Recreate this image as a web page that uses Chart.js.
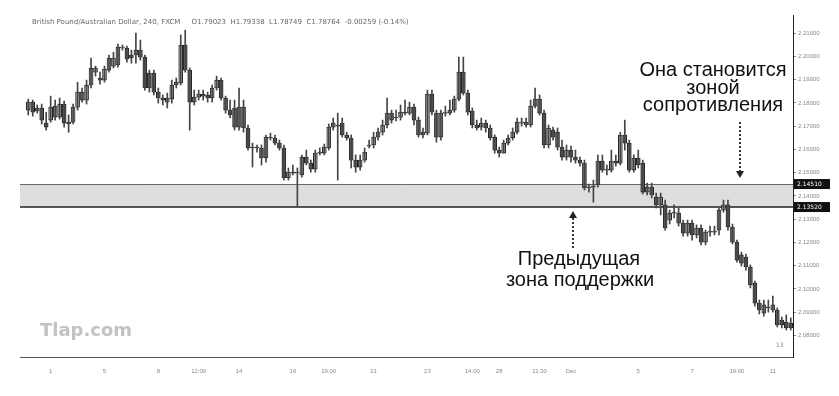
<!DOCTYPE html>
<html>
<head>
<meta charset="utf-8">
<script src="https://cdn.jsdelivr.net/npm/chart.js@4.4.1/dist/chart.umd.min.js"></script>
<style>
  body { margin: 0; background: #fff; }
  canvas { display: block; }
</style>
</head>
<body>
<canvas id="chart" width="839" height="396"></canvas>
<script>
// GBP/AUD 4h candles
const opens = [2.1769,2.1803,2.1765,2.1778,2.1713,2.1726,2.1739,2.1739,2.1795,2.1717,2.1717,2.1782,2.1812,2.1812,2.1877,2.1932,2.1898,2.1898,2.1941,2.1958,
  2.1963,2.2036,2.2036,2.2006,2.2006,2.2027,2.1997,2.1928,2.1928,2.1846,2.1821,2.1803,2.1816,2.1877,2.1885,2.2049,2.1941,2.1803,2.1825,2.1838,
  2.1834,2.1821,2.1864,2.1898,2.1821,2.1769,2.1778,2.1696,2.1782,2.1692,2.1610,2.1606,2.1606,2.1563,2.1653,2.1649,2.1627,2.1606,2.1477,2.1502,
  2.1498,2.1490,2.1567,2.1541,2.1515,2.1584,2.1584,2.1606,2.1696,2.1705,2.1713,2.1662,2.1649,2.1554,2.1524,2.1554,2.1614,2.1619,2.1653,2.1674,
  2.1705,2.1756,2.1735,2.1739,2.1760,2.1756,2.1782,2.1726,2.1662,2.1670,2.1838,2.1756,2.1653,2.1756,2.1756,2.1769,2.1816,2.1932,2.1842,2.1765,
  2.1705,2.1696,2.1713,2.1692,2.1653,2.1597,2.1584,2.1627,2.1649,2.1674,2.1713,2.1705,2.1705,2.1786,2.1816,2.1756,2.1619,2.1683,2.1674,2.1610,
  2.1567,2.1597,2.1567,2.1554,2.1541,2.1434,2.1442,2.1447,2.1550,2.1511,2.1511,2.1550,2.1541,2.1662,2.1627,2.1511,2.1563,2.1541,2.1416,2.1438,
  2.1395,2.1361,2.1361,2.1296,2.1326,2.1326,2.1283,2.1240,2.1283,2.1232,2.1262,2.1201,2.1244,2.1249,2.1253,2.1339,2.1361,2.1266,2.1201,2.1146,
  2.1137,2.1094,2.1025,2.0939,2.0896,2.0922,2.0909,2.0909,2.0866,2.0857,2.0853];
const highs = [2.1816,2.1812,2.1791,2.1795,2.1760,2.1829,2.1812,2.1821,2.1808,2.1748,2.1795,2.1889,2.1864,2.1898,2.1993,2.1958,2.1932,2.1958,2.2006,2.2018,
  2.2053,2.2049,2.2044,2.2027,2.2100,2.2070,2.2006,2.1941,2.1941,2.1864,2.1834,2.1842,2.1898,2.1907,2.2092,2.2113,2.1950,2.1855,2.1855,2.1855,
  2.1846,2.1877,2.1915,2.1907,2.1829,2.1812,2.1812,2.1864,2.1812,2.1705,2.1627,2.1619,2.1619,2.1662,2.1670,2.1662,2.1640,2.1619,2.1520,2.1533,
  2.1520,2.1576,2.1597,2.1554,2.1597,2.1606,2.1623,2.1709,2.1735,2.1756,2.1735,2.1674,2.1662,2.1576,2.1576,2.1606,2.1640,2.1674,2.1692,2.1726,
  2.1821,2.1769,2.1769,2.1791,2.1812,2.1803,2.1795,2.1739,2.1692,2.1855,2.1855,2.1769,2.1769,2.1786,2.1812,2.1829,2.1997,2.1997,2.1855,2.1778,
  2.1726,2.1735,2.1726,2.1705,2.1662,2.1610,2.1640,2.1662,2.1692,2.1735,2.1735,2.1735,2.1812,2.1864,2.1834,2.1769,2.1705,2.1696,2.1692,2.1640,
  2.1619,2.1614,2.1597,2.1567,2.1554,2.1451,2.1468,2.1576,2.1576,2.1533,2.1597,2.1576,2.1674,2.1726,2.1640,2.1576,2.1597,2.1554,2.1455,2.1455,
  2.1412,2.1412,2.1382,2.1339,2.1361,2.1348,2.1296,2.1296,2.1296,2.1275,2.1275,2.1253,2.1270,2.1270,2.1348,2.1382,2.1382,2.1279,2.1210,2.1158,
  2.1150,2.1103,2.1034,2.0952,2.0952,2.0952,2.0969,2.0918,2.0879,2.0888,2.0875];
const lows = [2.1748,2.1743,2.1756,2.1709,2.1683,2.1717,2.1726,2.1730,2.1696,2.1674,2.1709,2.1769,2.1803,2.1795,2.1864,2.1915,2.1881,2.1889,2.1932,2.1950,
  2.1954,2.2027,2.1975,2.1971,2.1971,2.1984,2.1855,2.1846,2.1834,2.1799,2.1791,2.1778,2.1799,2.1864,2.1877,2.1932,2.1683,2.1791,2.1812,2.1812,
  2.1803,2.1803,2.1855,2.1812,2.1756,2.1735,2.1683,2.1683,2.1674,2.1597,2.1524,2.1588,2.1533,2.1545,2.1640,2.1619,2.1597,2.1468,2.1468,2.1490,
  2.1352,2.1481,2.1533,2.1502,2.1502,2.1576,2.1576,2.1597,2.1683,2.1468,2.1653,2.1640,2.1520,2.1502,2.1511,2.1545,2.1606,2.1606,2.1640,2.1662,
  2.1692,2.1713,2.1722,2.1726,2.1748,2.1748,2.1705,2.1653,2.1649,2.1662,2.1748,2.1631,2.1640,2.1743,2.1748,2.1760,2.1808,2.1834,2.1748,2.1692,
  2.1683,2.1683,2.1674,2.1640,2.1584,2.1567,2.1584,2.1619,2.1640,2.1666,2.1700,2.1696,2.1696,2.1778,2.1748,2.1606,2.1606,2.1640,2.1597,2.1554,
  2.1554,2.1545,2.1541,2.1528,2.1425,2.1416,2.1373,2.1438,2.1502,2.1490,2.1502,2.1528,2.1533,2.1597,2.1502,2.1502,2.1520,2.1408,2.1404,2.1391,
  2.1348,2.1318,2.1253,2.1279,2.1305,2.1270,2.1227,2.1227,2.1210,2.1219,2.1189,2.1189,2.1227,2.1232,2.1232,2.1330,2.1253,2.1193,2.1115,2.1098,
  2.1081,2.1004,2.0926,2.0892,2.0883,2.0900,2.0900,2.0836,2.0832,2.0823,2.0823];
const closes = [2.1803,2.1760,2.1778,2.1726,2.1696,2.1782,2.1786,2.1795,2.1713,2.1709,2.1782,2.1846,2.1846,2.1877,2.1950,2.1950,2.1907,2.1945,2.1993,2.1993,
  2.2040,2.2040,2.1988,2.1993,2.2027,2.1997,2.1864,2.1864,2.1846,2.1821,2.1812,2.1821,2.1877,2.1889,2.2049,2.1941,2.1803,2.1825,2.1838,2.1829,
  2.1821,2.1864,2.1898,2.1821,2.1769,2.1748,2.1696,2.1782,2.1692,2.1606,2.1606,2.1610,2.1563,2.1653,2.1649,2.1627,2.1606,2.1477,2.1502,2.1498,
  2.1502,2.1567,2.1541,2.1515,2.1584,2.1588,2.1610,2.1696,2.1713,2.1700,2.1662,2.1649,2.1554,2.1524,2.1554,2.1588,2.1619,2.1653,2.1674,2.1705,
  2.1756,2.1726,2.1739,2.1760,2.1756,2.1782,2.1726,2.1662,2.1674,2.1838,2.1760,2.1653,2.1756,2.1760,2.1769,2.1816,2.1932,2.1842,2.1760,2.1705,
  2.1692,2.1713,2.1692,2.1649,2.1597,2.1584,2.1627,2.1649,2.1674,2.1717,2.1717,2.1717,2.1786,2.1816,2.1756,2.1619,2.1692,2.1653,2.1610,2.1567,
  2.1597,2.1567,2.1554,2.1541,2.1434,2.1438,2.1438,2.1550,2.1511,2.1515,2.1550,2.1541,2.1662,2.1627,2.1511,2.1563,2.1533,2.1416,2.1438,2.1404,
  2.1361,2.1395,2.1262,2.1326,2.1330,2.1283,2.1240,2.1283,2.1232,2.1262,2.1201,2.1244,2.1249,2.1244,2.1339,2.1361,2.1266,2.1201,2.1124,2.1111,
  2.1094,2.1017,2.0939,2.0909,2.0931,2.0918,2.0931,2.0845,2.0845,2.0832,2.0832];

// x axis labels sit under these candle numbers
const tickPos  = [5, 17, 29, 38, 47, 59, 67, 77, 89, 99, 105, 114, 121, 136, 148, 158, 166];
const tickText = ['1', '5', '8', '12:00', '14', '16', '19:00', '21', '23', '14:00', '28', '11:30', 'Dec', '5', '7', '19:00', '11'];

// old support, now resistance
const zoneTop = 2.1451;
const zoneBottom = 2.1352;

const title = 'British Pound/Australian Dollar, 240, FXCM     O1.79023  H1.79338  L1.78749  C1.78764  -0.00259 (-0.14%)';

const bars = opens.map((_, i) => i);
const bodies = opens.map((o, i) => [Math.min(o, closes[i]), Math.max(o, closes[i])]);
const wicks = lows.map((l, i) => [l, highs[i]]);
const bodyColors = opens.map((o, i) => closes[i] >= o ? '#b8b8b8' : '#6e6e6e');

const overlay = {
  id: 'overlay',
  beforeDatasetsDraw(chart) {
    const { ctx, chartArea: a, scales: { y } } = chart;
    const y1 = y.getPixelForValue(zoneTop), y2 = y.getPixelForValue(zoneBottom);
    ctx.save();
    ctx.fillStyle = 'rgba(195,195,195,0.55)';
    ctx.fillRect(20, y1, a.right - 20, y2 - y1);
    ctx.strokeStyle = '#666';
    ctx.lineWidth = 1;
    ctx.beginPath(); ctx.moveTo(20, y1 + 0.5); ctx.lineTo(a.right, y1 + 0.5); ctx.stroke();
    ctx.strokeStyle = '#222';
    ctx.lineWidth = 1.5;
    ctx.beginPath(); ctx.moveTo(20, y2); ctx.lineTo(a.right, y2); ctx.stroke();
    // x axis line runs a little past the first candle
    ctx.strokeStyle = '#555';
    ctx.lineWidth = 1;
    ctx.beginPath(); ctx.moveTo(20, a.bottom + 0.5); ctx.lineTo(a.left, a.bottom + 0.5); ctx.stroke();
    ctx.restore();
  },
  afterDraw(chart) {
    const { ctx, chartArea: a, scales: { y } } = chart;
    const y1 = y.getPixelForValue(zoneTop), y2 = y.getPixelForValue(zoneBottom);
    ctx.save();

    // price tags on the axis
    ctx.font = '6px "DejaVu Sans"';
    ctx.textBaseline = 'middle';
    [[y1, zoneTop], [y2, zoneBottom]].forEach(([py, v]) => {
      ctx.fillStyle = '#111';
      ctx.fillRect(a.right + 1, py - 5, 36, 10);
      ctx.fillStyle = '#fff';
      ctx.fillText(v.toFixed(5), a.right + 4, py);
    });

    // header line
    ctx.fillStyle = '#666';
    ctx.font = '7px "DejaVu Sans"';
    ctx.textBaseline = 'alphabetic';
    ctx.fillText(title, 32, 24);

    // small bar counter bottom right
    ctx.fillStyle = '#888';
    ctx.font = '6px "DejaVu Sans"';
    ctx.fillText('13', 776, 347);

    // watermark
    ctx.fillStyle = '#c2c2c2';
    ctx.font = 'bold 18px "DejaVu Sans"';
    ctx.fillText('Tlap.com', 40, 336);

    // captions
    ctx.fillStyle = '#111';
    ctx.font = '20px "Liberation Sans"';
    ctx.textAlign = 'center';
    ctx.fillText('Она становится', 713, 76);
    ctx.fillText('зоной', 713, 94);
    ctx.fillText('сопротивления', 713, 111);
    ctx.fillText('Предыдущая', 579, 265);
    ctx.fillText('зона поддержки', 580, 286);

    // dotted arrows
    ctx.strokeStyle = '#333';
    ctx.fillStyle = '#222';
    ctx.lineWidth = 2;
    ctx.setLineDash([2, 2]);
    ctx.beginPath(); ctx.moveTo(740, 122); ctx.lineTo(740, y1 - 13); ctx.stroke();
    ctx.beginPath(); ctx.moveTo(573, y2 + 11); ctx.lineTo(573, 250); ctx.stroke();
    ctx.setLineDash([]);
    ctx.beginPath(); ctx.moveTo(736, y1 - 13); ctx.lineTo(744, y1 - 13); ctx.lineTo(740, y1 - 6); ctx.closePath(); ctx.fill();
    ctx.beginPath(); ctx.moveTo(569, y2 + 11); ctx.lineTo(577, y2 + 11); ctx.lineTo(573, y2 + 4); ctx.closePath(); ctx.fill();

    ctx.restore();
  }
};

new Chart(document.getElementById('chart'), {
  type: 'bar',
  data: {
    labels: bars,
    datasets: [
      { label: 'wick', data: wicks, grouped: false, barThickness: 1, backgroundColor: '#444', borderWidth: 0 },
      { label: 'body', data: bodies, grouped: false, barThickness: 4, backgroundColor: bodyColors, borderColor: '#222', borderWidth: 1, borderSkipped: false }
    ]
  },
  options: {
    responsive: false,
    animation: false,
    layout: { padding: { left: 26, top: 15, right: 0, bottom: 0 } },
    plugins: { legend: { display: false }, tooltip: { enabled: false } },
    scales: {
      x: {
        grid: { display: false },
        border: { color: '#555' },
        ticks: {
          autoSkip: false, maxRotation: 0, color: '#888', font: { size: 6 }, padding: 3,
          callback: (v, i) => { const k = tickPos.indexOf(i); return k >= 0 ? tickText[k] : ''; }
        },
        afterFit: s => { s.height = 39; }
      },
      y: {
        position: 'right',
        min: 2.0707,
        max: 2.2178,
        grid: { drawOnChartArea: false, tickLength: 3, color: '#888' },
        border: { color: '#222' },
        ticks: { stepSize: 0.01, includeBounds: false, color: '#888', font: { size: 6 }, padding: 2,
          callback: v => v.toFixed(5) },
        afterFit: s => { s.width = 46; }
      }
    }
  },
  plugins: [overlay]
});
</script>
</body>
</html>
